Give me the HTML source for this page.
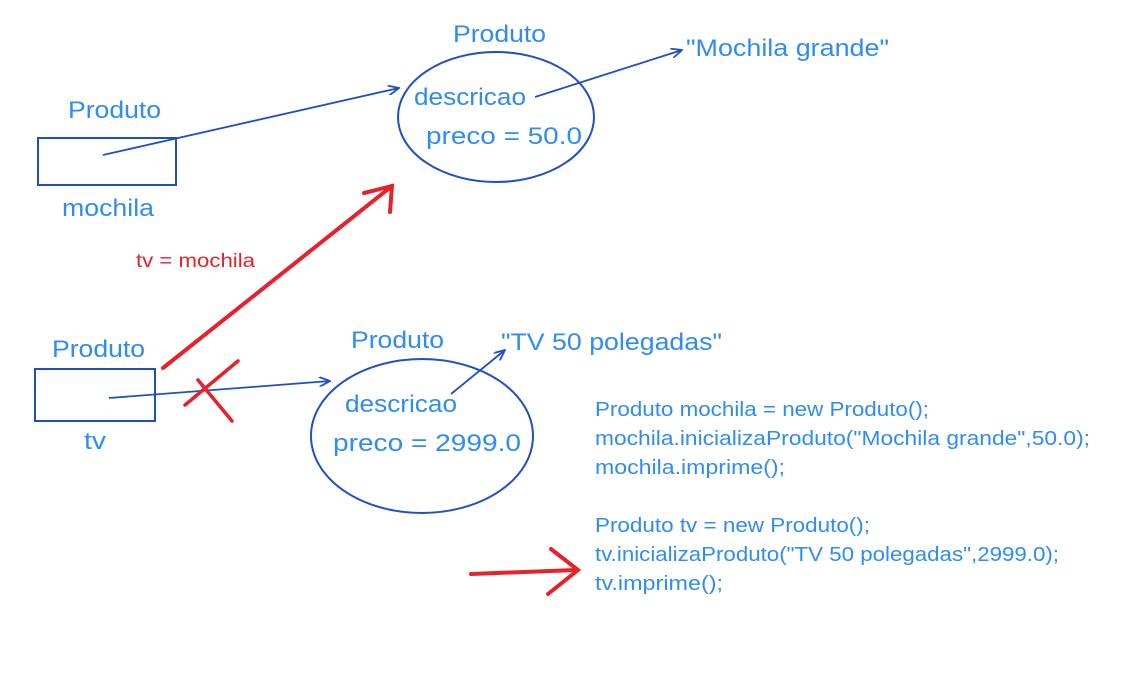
<!DOCTYPE html>
<html><head><meta charset="utf-8"><style>
html,body{margin:0;padding:0;background:#fff;}
svg{display:block;}
text{font-family:"Liberation Sans",sans-serif;fill:#2f8cf5;}
</style></head><body>
<svg width="1137" height="682" viewBox="0 0 1137 682" xmlns="http://www.w3.org/2000/svg">
<defs>
<marker id="a" markerWidth="12" markerHeight="10" refX="11" refY="5" orient="auto" markerUnits="userSpaceOnUse">
<path d="M0,0 L11,5 L0,10" fill="none" stroke="#1f4fc2" stroke-width="1.8"/></marker>
</defs>
<g font-size="24">
<text x="453" y="42" textLength="93" lengthAdjust="spacingAndGlyphs">Produto</text>
<text x="68" y="118" textLength="93" lengthAdjust="spacingAndGlyphs">Produto</text>
<text x="62" y="216" textLength="92" lengthAdjust="spacingAndGlyphs">mochila</text>
<text x="52" y="357" textLength="93" lengthAdjust="spacingAndGlyphs">Produto</text>
<text x="84" y="449" textLength="22" lengthAdjust="spacingAndGlyphs">tv</text>
<text x="351" y="348" textLength="93" lengthAdjust="spacingAndGlyphs">Produto</text>
<text x="686" y="56" textLength="203" lengthAdjust="spacingAndGlyphs">"Mochila grande"</text>
<text x="501" y="350" textLength="221" lengthAdjust="spacingAndGlyphs">"TV 50 polegadas"</text>
<text x="414" y="105" textLength="112" lengthAdjust="spacingAndGlyphs">descricao</text>
<text x="426" y="144" textLength="156" lengthAdjust="spacingAndGlyphs">preco = 50.0</text>
<text x="345" y="412" textLength="112" lengthAdjust="spacingAndGlyphs">descricao</text>
<text x="333" y="451" textLength="188" lengthAdjust="spacingAndGlyphs">preco = 2999.0</text>
</g>
<g fill="none" stroke="#1f4fc2" stroke-width="2">
<rect x="38" y="138" width="138" height="47"/>
<rect x="35" y="369" width="120" height="52"/>
<ellipse cx="496" cy="117" rx="98" ry="65"/>
<ellipse cx="422" cy="436" rx="111" ry="77"/>
</g>
<g stroke="#1f4fc2" stroke-width="1.8" fill="none">
<line x1="103" y1="155" x2="399" y2="88" marker-end="url(#a)"/>
<line x1="535" y1="97" x2="682" y2="50" marker-end="url(#a)"/>
<line x1="109" y1="398" x2="330" y2="381" marker-end="url(#a)"/>
<line x1="451" y1="394" x2="505" y2="350" marker-end="url(#a)"/>
</g>
<g stroke="#e8202a" stroke-width="4" fill="none" stroke-linecap="round">
<line x1="163" y1="368" x2="392" y2="186"/>
<path d="M364,193 L392,186 L390,212"/>
<line x1="185" y1="405" x2="238" y2="361" stroke-width="3.5"/>
<line x1="198" y1="380" x2="232" y2="421" stroke-width="3.5"/>
<line x1="471" y1="574" x2="576" y2="570"/>
<path d="M551,549 L578,570 L548,594"/>
</g>
<text x="136" y="267" font-size="19" textLength="119" lengthAdjust="spacingAndGlyphs" style="fill:#e8202a">tv = mochila</text>
<g font-size="20">
<text x="595" y="416" textLength="334" lengthAdjust="spacingAndGlyphs">Produto mochila = new Produto();</text>
<text x="595" y="445" textLength="495" lengthAdjust="spacingAndGlyphs">mochila.inicializaProduto("Mochila grande",50.0);</text>
<text x="595" y="474" textLength="190" lengthAdjust="spacingAndGlyphs">mochila.imprime();</text>
<text x="595" y="532" textLength="275" lengthAdjust="spacingAndGlyphs">Produto tv = new Produto();</text>
<text x="595" y="561" textLength="464" lengthAdjust="spacingAndGlyphs">tv.inicializaProduto("TV 50 polegadas",2999.0);</text>
<text x="595" y="590" textLength="128" lengthAdjust="spacingAndGlyphs">tv.imprime();</text>
</g>
</svg>
</body></html>
